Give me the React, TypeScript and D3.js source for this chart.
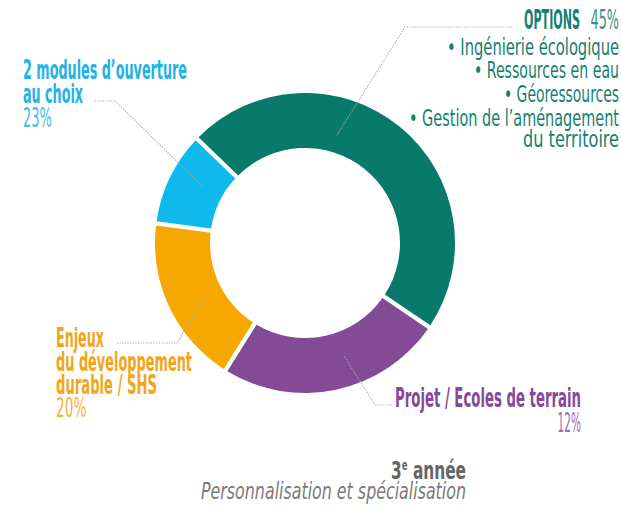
import React from "react";
import * as d3 from "d3";

// ---- data ----
const categories = ["OPTIONS", "Projet / Ecoles de terrain", "Enjeux du développement durable / SHS", "2 modules d’ouverture au choix"];
const arcShares = [47.6, 24.4, 18.1, 9.9]; // arc sizes as drawn
const labelPercents = ["45%", "12%", "20%", "23%"];
const arcColors = ["#077a6c", "#834a96", "#f6a800", "#10b9ec"];
const textColors = ["#16806f", "#85499a", "#f3a51a", "#1fb3e6"];
const optionItems = ["Ingénierie écologique", "Ressources en eau", "Géoressources", "Gestion de l’aménagement"];
const optionTail = "du territoire";

const W = 621, H = 517;
const cx = 305, cy = 243, R = 150, r = 95;
const condensed = "'Liberation Sans Narrow', 'DejaVu Sans Condensed', 'Roboto', sans-serif";

function T(props: any) {
  const { children, ...rest } = props;
  return <text fontFamily={condensed} {...rest}>{children}</text>;
}

const LS = 26; // label font size
const PS = 26; // percent font size
const BS = 23; // bullet font size

export default function App() {
  const pie = d3.pie<number>().sort(null).value((d) => d)
    .startAngle((-46 * Math.PI) / 180)
    .endAngle((-46 * Math.PI) / 180 + 2 * Math.PI)
    .padAngle(0.024);
  const arcs = pie(arcShares);
  const arcGen = d3.arc<d3.PieArcDatum<number>>().innerRadius(r).outerRadius(R);
  const line = d3.line();

  const leaders: [number, number][][] = [
    [[512, 27], [405, 27], [337, 135]],
    [[392, 405], [375, 405], [344, 356]],
    [[117, 343], [177, 343], [203, 300]],
    [[95, 101], [115, 101], [203, 187]],
  ];

  return (
    <svg width={W} height={H} style={{ position: "absolute", left: 0, top: 0, background: "#fff" }}>
      <g transform={`translate(${cx},${cy})`}>
        {arcs.map((a, i) => (
          <path key={i} d={arcGen(a) || ""} fill={arcColors[i]} />
        ))}
      </g>
      {leaders.map((pts, i) => (
        <path key={i} d={line(pts) || ""} fill="none" stroke="#a9a9a9" strokeWidth={1.1} strokeDasharray="1.3 1.3" />
      ))}

      {/* OPTIONS */}
      <T x={524} y={29.3} fontSize={LS} fontWeight={700} fill={textColors[0]} textLength={56} lengthAdjust="spacingAndGlyphs">{categories[0]}</T>
      <T x={619} y={29.3} fontSize={PS} fontWeight={300} fill={textColors[0]} textAnchor="end" textLength={28.5} lengthAdjust="spacingAndGlyphs" opacity={0.85}>{labelPercents[0]}</T>
      {optionItems.map((s, i) => (
        <T key={i} x={619} y={54.8 + i * 23.6} fontSize={BS} fill={textColors[0]} textAnchor="end"
          textLength={[172, 145, 115, 210][i]} lengthAdjust="spacingAndGlyphs">{"• " + s}</T>
      ))}
      <T x={619} y={146.7} fontSize={BS} fill={textColors[0]} textAnchor="end" textLength={96} lengthAdjust="spacingAndGlyphs">{optionTail}</T>

      {/* 2 modules */}
      <T x={23} y={79.3} fontSize={LS} fontWeight={700} fill={textColors[3]} textLength={164} lengthAdjust="spacingAndGlyphs">2 modules d’ouverture</T>
      <T x={23} y={103} fontSize={LS} fontWeight={700} fill={textColors[3]} textLength={60} lengthAdjust="spacingAndGlyphs">au choix</T>
      <T x={23} y={126.7} fontSize={PS} fontWeight={300} fill={textColors[3]} textLength={29} lengthAdjust="spacingAndGlyphs" opacity={0.85}>{labelPercents[3]}</T>

      {/* Enjeux */}
      <T x={56} y={347.3} fontSize={LS} fontWeight={700} fill={textColors[2]} textLength={48} lengthAdjust="spacingAndGlyphs">Enjeux</T>
      <T x={56} y={370.7} fontSize={LS} fontWeight={700} fill={textColors[2]} textLength={136} lengthAdjust="spacingAndGlyphs">du développement</T>
      <T x={56} y={394} fontSize={LS} fontWeight={700} fill={textColors[2]} textLength={101} lengthAdjust="spacingAndGlyphs">durable / SHS</T>
      <T x={56} y={417} fontSize={PS} fontWeight={300} fill={textColors[2]} textLength={30.5} lengthAdjust="spacingAndGlyphs" opacity={0.85}>{labelPercents[2]}</T>

      {/* Projet */}
      <T x={395} y={407.3} fontSize={LS} fontWeight={700} fill={textColors[1]} textLength={186} lengthAdjust="spacingAndGlyphs">{categories[1]}</T>
      <T x={581} y={431.7} fontSize={PS} fontWeight={300} fill={textColors[1]} textAnchor="end" textLength={23.5} lengthAdjust="spacingAndGlyphs" opacity={0.8}>{labelPercents[1]}</T>

      {/* Title */}
      <T x={466} y={479.3} fontSize={25} fontWeight={700} fill="#666" textAnchor="end" textLength={75} lengthAdjust="spacingAndGlyphs">
        3<tspan fontSize={14} dy={-9}>e</tspan><tspan dy={9}> année</tspan>
      </T>
      <T x={466} y={498.5} fontSize={22.5} fontStyle="italic" fill="#7a7a7a" textAnchor="end" textLength={265} lengthAdjust="spacingAndGlyphs">Personnalisation et spécialisation</T>
    </svg>
  );
}
